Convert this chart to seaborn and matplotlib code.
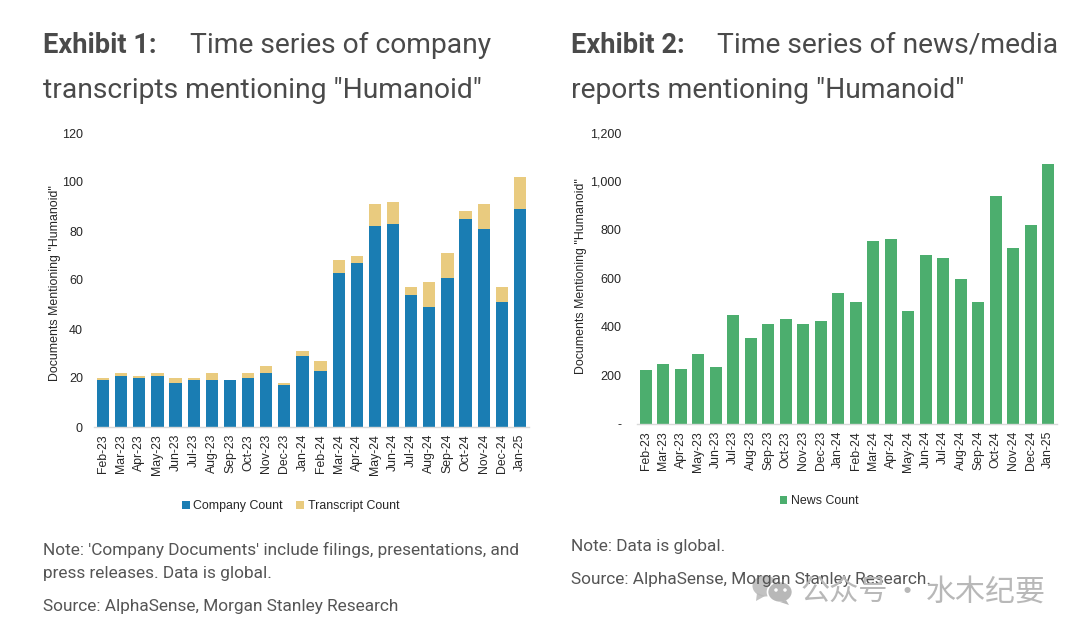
import pandas as pd
import seaborn as sns
import matplotlib.pyplot as plt
from matplotlib.patches import Ellipse, Polygon

months = ["Feb-23", "Mar-23", "Apr-23", "May-23", "Jun-23", "Jul-23", "Aug-23", "Sep-23",
          "Oct-23", "Nov-23", "Dec-23", "Jan-24", "Feb-24", "Mar-24", "Apr-24", "May-24",
          "Jun-24", "Jul-24", "Aug-24", "Sep-24", "Oct-24", "Nov-24", "Dec-24", "Jan-25"]
company = [19, 21, 20, 21, 18, 19, 19, 19, 20, 22, 17, 29, 23, 63, 67, 82, 83, 54, 49, 61, 85, 81, 51, 89]
transcript = [1, 1, 1, 1, 2, 1, 3, 0, 2, 3, 1, 2, 4, 5, 3, 9, 9, 3, 10, 10, 3, 10, 6, 13]
news = [223, 248, 225, 290, 237, 450, 355, 412, 435, 412, 424, 541, 503, 754, 764, 468,
        697, 684, 597, 503, 940, 726, 820, 1073]

W, H = 1080, 633
BLUE = "#1a7db3"
SAND = "#e9cb7f"
GREEN = "#4cae6e"
TITLE = "#4a4a4a"
NOTE = "#555555"
INK = "#262626"

sns.set_theme(style="white")
plt.rcParams["font.family"] = ["Liberation Sans", "DejaVu Sans"]

fig = plt.figure(figsize=(W / 100, H / 100), dpi=100)


def px_axes(left, top, right, bottom):
    return fig.add_axes([left / W, 1 - bottom / H, (right - left) / W, (bottom - top) / H])


def px_text(x, y, s, **kw):
    fig.text(x / W, 1 - y / H, s, va="baseline", **kw)


def style_axes(ax, ymax, ticks, labels, ypad):
    ax.set_ylim(0, ymax)
    ax.set_yticks(ticks)
    ax.set_yticklabels(labels, fontsize=9, color=INK)
    ax.set_xlabel("")
    ax.set_ylabel('Documents Mentioning "Humanoid"', fontsize=8.9, color=INK)
    ax.tick_params(axis="x", labelrotation=90, labelsize=8.8, labelcolor=INK, length=0, pad=5)
    ax.tick_params(axis="y", length=0, pad=ypad)
    sns.despine(ax=ax, left=True, top=True, right=True)
    ax.spines["bottom"].set_color("#d9d9d9")
    ax.spines["bottom"].set_linewidth(1)
    ax.set_xlim(-0.5, len(months) - 0.5)


# Exhibit 1
df1 = pd.DataFrame({"Month": months, "Company": company, "Transcript": transcript})
ax1 = px_axes(94, 133, 529, 427)
sns.barplot(data=df1, x="Month", y="Company", color=BLUE, saturation=1, width=0.68,
            linewidth=0, label="Company Count", ax=ax1)
sns.barplot(data=df1, x="Month", y="Transcript", color=SAND, saturation=1, width=0.68,
            linewidth=0, bottom=df1["Company"].values, label="Transcript Count", ax=ax1)
style_axes(ax1, 120, [0, 20, 40, 60, 80, 100, 120], ["0", "20", "40", "60", "80", "100", "120"], 8)
ax1.yaxis.set_label_coords(-0.076, 0.49)
ax1.legend(loc="center", bbox_to_anchor=(0.452, -0.27), ncol=2, frameon=False, fontsize=8.9,
           handlelength=0.6, handleheight=0.6, handletextpad=0.3, columnspacing=1.1,
           labelcolor=INK)

# Exhibit 2
df2 = pd.DataFrame({"Month": months, "News": news})
ax2 = px_axes(637, 133, 1057, 424)
sns.barplot(data=df2, x="Month", y="News", color=GREEN, saturation=1, width=0.67,
            linewidth=0, label="News Count", ax=ax2)
style_axes(ax2, 1200, [0, 200, 400, 600, 800, 1000, 1200],
           ["-", "200", "400", "600", "800", "1,000", "1,200"], 11)
ax2.yaxis.set_label_coords(-0.118, 0.51)
ax2.legend(loc="center", bbox_to_anchor=(0.434, -0.265), frameon=False, fontsize=8.9,
           handlelength=0.6, handleheight=0.6, handletextpad=0.3, labelcolor=INK)

# Titles
for x, x2, y, head, rest in [(43, 190, 53, "Exhibit 1:", "Time series of company"),
                             (571, 717, 53, "Exhibit 2:", "Time series of news/media")]:
    px_text(x, y, head, family="Roboto", fontsize=19.6, fontweight="bold", color=TITLE)
    px_text(x2, y, rest, family="Roboto", fontsize=20.3, color=TITLE)
px_text(43, 98, 'transcripts mentioning "Humanoid"', family="Roboto", fontsize=20.3, color=TITLE)
px_text(571, 98, 'reports mentioning "Humanoid"', family="Roboto", fontsize=20.3, color=TITLE)

# Notes
notes = [(43, 555, "Note: 'Company Documents' include filings, presentations, and"),
         (43, 578, "press releases. Data is global."),
         (43, 611, "Source: AlphaSense, Morgan Stanley Research"),
         (571, 551, "Note: Data is global."),
         (571, 584, "Source: AlphaSense, Morgan Stanley Research.")]
for x, y, s in notes:
    px_text(x, y, s, family="Roboto", fontsize=12.4, color=NOTE)

# Watermark
WM = "#b8b8b8"
overlay = fig.add_axes([0, 0, 1, 1], facecolor="none")
overlay.set_xlim(0, W)
overlay.set_ylim(H, 0)
overlay.axis("off")
overlay.add_patch(Ellipse((765, 586), 25, 21, color=WM, alpha=0.85, lw=0))
overlay.add_patch(Polygon([(757, 593), (756, 601), (765, 596)], color=WM, alpha=0.85, lw=0))
overlay.add_patch(Ellipse((780, 592), 25, 21, fc=WM, ec="white", lw=1.2))
overlay.add_patch(Polygon([(786, 600), (789, 605), (780, 602)], color=WM, lw=0))
overlay.add_patch(Ellipse((776, 590), 3.5, 3.5, color="white", lw=0))
overlay.add_patch(Ellipse((785, 590), 3.5, 3.5, color="white", lw=0))
px_text(801, 601, "公众号", family=["Noto Sans CJK SC", "DejaVu Sans"], fontsize=21, color=WM)
px_text(892, 601, "·", family=["Noto Sans CJK SC", "DejaVu Sans"], fontsize=21, color=WM)
px_text(926, 601, "水木纪要", family=["Noto Sans CJK SC", "DejaVu Sans"], fontsize=21.6, color=WM)

fig.savefig("out.png", dpi=100)
